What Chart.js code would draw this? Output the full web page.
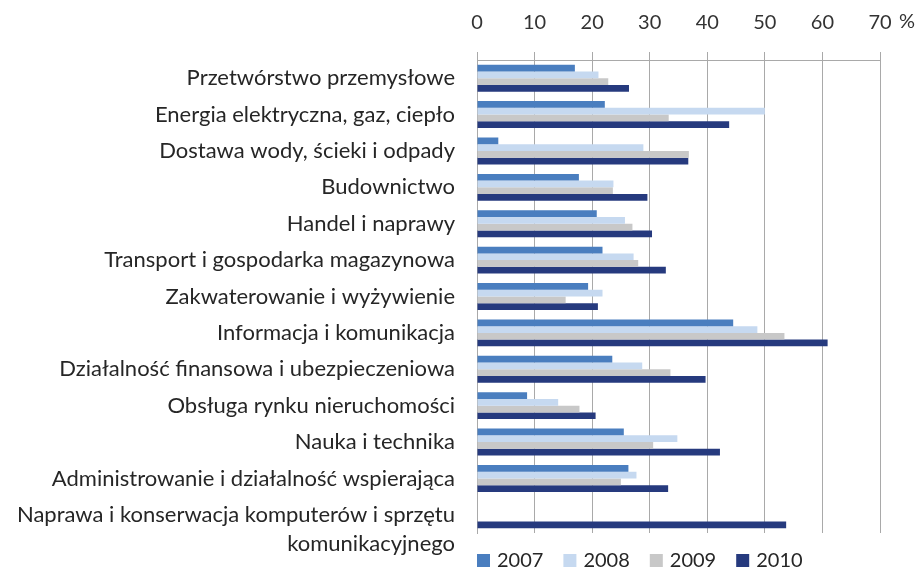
<!DOCTYPE html>
<html>
<head>
<meta charset="utf-8">
<script src="https://cdn.jsdelivr.net/npm/chart.js@4/dist/chart.umd.min.js"></script>
<style>
  html, body { margin: 0; padding: 0; background: #fff; }
  #wrap { width: 918px; height: 571px; }
</style>
</head>
<body>
<div id="wrap"><canvas id="chart" width="918" height="571"></canvas></div>
<script>
/* ===============================
   DATA
================================= */
const categories = [
  "Przetwórstwo przemysłowe",
  "Energia elektryczna, gaz, ciepło",
  "Dostawa wody, ścieki i odpady",
  "Budownictwo",
  "Handel i naprawy",
  "Transport i gospodarka magazynowa",
  "Zakwaterowanie i wyżywienie",
  "Informacja i komunikacja",
  "Działalność finansowa i ubezpieczeniowa",
  "Obsługa rynku nieruchomości",
  "Nauka i technika",
  "Administrowanie i działalność wspierająca",
  // empty first line pushes the wrapped label down like in the original
  ["", "Naprawa i konserwacja komputerów i sprzętu", "komunikacyjnego"],
];

const years = ["2007", "2008", "2009", "2010"];

const values2007 = [17.0, 22.2, 3.7, 17.7, 20.8, 21.8, 19.3, 44.5, 23.5, 8.7, 25.5, 26.3, null];
const values2008 = [21.1, 50.0, 28.9, 23.7, 25.7, 27.2, 21.8, 48.7, 28.7, 14.1, 34.8, 27.7, null];
const values2009 = [22.8, 33.3, 36.8, 23.6, 27.0, 28.0, 15.4, 53.4, 33.6, 17.8, 30.6, 25.0, null];
const values2010 = [26.4, 43.8, 36.7, 29.6, 30.4, 32.8, 21.0, 60.9, 39.7, 20.6, 42.2, 33.2, 53.7];

const xTicks = [0, 10, 20, 30, 40, 50, 60, 70];

/* ===============================
   STYLE
================================= */
const COLORS = ["#4a7ebf", "#c6d9f0", "#c8c8c8", "#263a7e"];
const FONT = "Lato";
const GRID = "#a9a9a9";

/* ===============================
   PLUGINS
================================= */
// "%" sign after the last x tick
const percentSign = {
  id: "percentSign",
  afterDraw(chart) {
    const { ctx, scales } = chart;
    const x = scales.x.getPixelForValue(70) + 19;
    ctx.save();
    ctx.font = `20px ${FONT}`;
    ctx.fillStyle = "#333";
    ctx.textBaseline = "middle";
    ctx.textAlign = "left";
    ctx.fillText("%", x, 22);
    ctx.restore();
  },
};

// legend under the plot, starting at the plot's left edge
const bottomLegend = {
  id: "bottomLegend",
  afterDraw(chart) {
    const { ctx, chartArea } = chart;
    let x = chartArea.left;
    const y = 561;
    ctx.save();
    ctx.font = `20px ${FONT}`;
    ctx.textBaseline = "middle";
    ctx.textAlign = "left";
    chart.data.datasets.forEach(ds => {
      ctx.fillStyle = ds.backgroundColor;
      ctx.fillRect(x, y - 7, 13, 13);
      x += 20;
      ctx.fillStyle = "#262626";
      ctx.fillText(ds.label, x, y);
      x += ctx.measureText(ds.label).width + 20;
    });
    ctx.restore();
  },
};

/* ===============================
   CHART
================================= */
const seriesValues = [values2007, values2008, values2009, values2010];

new Chart(document.getElementById("chart"), {
  type: "bar",
  data: {
    labels: categories,
    datasets: years.map((y, i) => ({
      label: y,
      data: seriesValues[i],
      backgroundColor: COLORS[i],
      borderWidth: 0,
      categoryPercentage: 0.74,
      barPercentage: 1.0,
    })),
  },
  options: {
    indexAxis: "y",
    responsive: false,
    animation: false,
    layout: { padding: { top: 0, right: 38, bottom: 38, left: 0 } },
    plugins: {
      legend: { display: false },
      tooltip: { enabled: false },
    },
    scales: {
      x: {
        position: "top",
        min: 0,
        max: 70,
        afterBuildTicks(scale) {
          scale.ticks = xTicks.map(v => ({ value: v }));
        },
        afterFit(scale) { scale.height = 60; },
        grid: { color: GRID, lineWidth: 1, tickLength: 8 },
        border: { display: true, color: GRID },
        ticks: {
          padding: 17,
          color: "#333",
          font: { family: FONT, size: 20 },
          maxRotation: 0,
        },
      },
      y: {
        afterFit(scale) { scale.width = 477; },
        grid: { display: false },
        border: { display: true, color: GRID },
        ticks: {
          padding: 14,
          color: "#262626",
          font: { family: FONT, size: 22, lineHeight: 1.33 },
          autoSkip: false,
        },
      },
    },
  },
  plugins: [percentSign, bottomLegend],
});
</script>
</body>
</html>
